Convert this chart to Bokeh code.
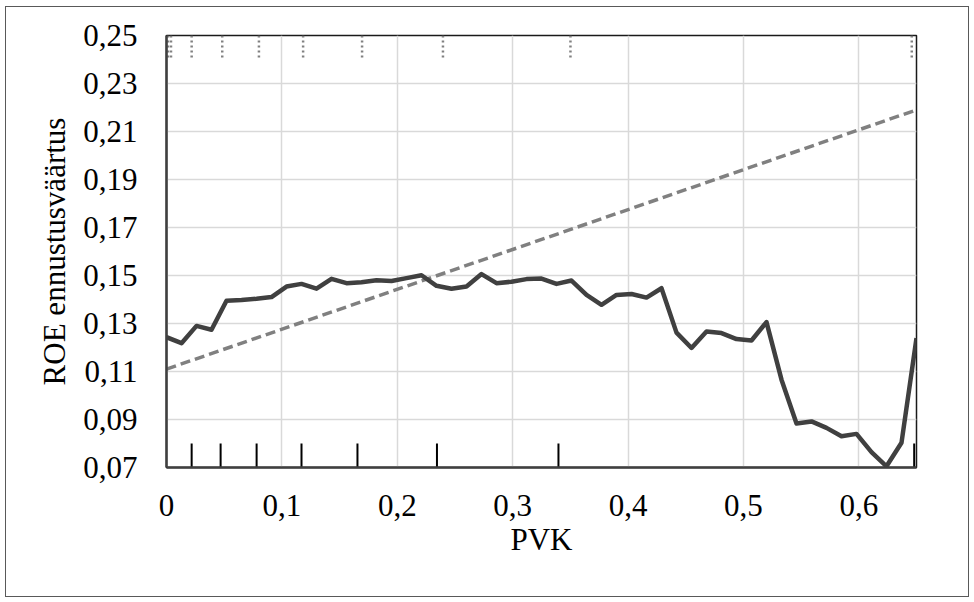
from bokeh.plotting import figure
from bokeh.models import FixedTicker, Range1d
from bokeh.embed import file_html
from bokeh.resources import INLINE

# ---- data ----
pvk = [0.000, 0.013, 0.026, 0.039, 0.052, 0.065, 0.078, 0.091, 0.104, 0.117,
       0.130, 0.143, 0.156, 0.169, 0.182, 0.195, 0.208, 0.221, 0.234, 0.247,
       0.260, 0.273, 0.286, 0.299, 0.312, 0.325, 0.338, 0.351, 0.364, 0.377,
       0.390, 0.403, 0.416, 0.429, 0.442, 0.455, 0.468, 0.481, 0.494, 0.507,
       0.520, 0.533, 0.546, 0.559, 0.572, 0.585, 0.598, 0.611, 0.624, 0.637,
       0.650]
roe = [0.1243, 0.1218, 0.1290, 0.1274, 0.1395, 0.1398, 0.1403, 0.1410, 0.1454, 0.1465,
       0.1445, 0.1486, 0.1468, 0.1472, 0.1480, 0.1477, 0.1489, 0.1501, 0.1457, 0.1445,
       0.1454, 0.1506, 0.1468, 0.1474, 0.1485, 0.1487, 0.1465, 0.1479, 0.1419, 0.1378,
       0.1419, 0.1423, 0.1408, 0.1447, 0.1262, 0.1198, 0.1267, 0.1260, 0.1235, 0.1229,
       0.1306, 0.1066, 0.0883, 0.0892, 0.0865, 0.0830, 0.0840, 0.0764, 0.0705, 0.0803,
       0.1239]
trend_x = [0.0, 0.65]
trend_y = [0.111, 0.219]
rug_bottom_x = [0.0218, 0.0469, 0.0781, 0.1170, 0.1655, 0.2344, 0.3397, 0.648]
rug_top_x = [0.0013, 0.0039, 0.0218, 0.0483, 0.0801, 0.1184, 0.1695, 0.2396, 0.3501, 0.6459]
x_ticks = [0.0, 0.1, 0.2, 0.3, 0.4, 0.5, 0.6]
x_tick_labels = ["0", "0,1", "0,2", "0,3", "0,4", "0,5", "0,6"]
y_ticks = [0.07, 0.09, 0.11, 0.13, 0.15, 0.17, 0.19, 0.21, 0.23, 0.25]
y_tick_labels = ["0,07", "0,09", "0,11", "0,13", "0,15", "0,17", "0,19", "0,21", "0,23", "0,25"]
x_label = "PVK"
y_label = "ROE ennustusväärtus"

X_MIN, X_MAX = 0.0, 0.65
Y_MIN, Y_MAX = 0.07, 0.25

FONT = "Liberation Serif"

p = figure(width=964, height=591, output_backend="svg", toolbar_location=None,
           x_range=Range1d(X_MIN, X_MAX), y_range=Range1d(Y_MIN, Y_MAX),
           min_border_left=160, min_border_right=54, min_border_top=28, min_border_bottom=131)
p.styles = {"border": "1.5px solid #595959", "margin-left": "5px", "margin-top": "6px"}
p.background_fill_color = "white"
p.border_fill_color = "white"
p.outline_line_color = "#1a1a1a"
p.outline_line_width = 1.5

# grid
p.xgrid.ticker = FixedTicker(ticks=x_ticks)
p.ygrid.ticker = FixedTicker(ticks=y_ticks)
p.grid.grid_line_color = "#d9d9d9"
p.grid.grid_line_width = 1.5

# axes
for ax in (p.xaxis[0], p.yaxis[0]):
    ax.axis_line_color = "#404040"
    ax.axis_line_width = 2.5
    ax.major_tick_line_color = None
    ax.minor_tick_line_color = None
    ax.major_tick_out = 0
    ax.major_tick_in = 0
    ax.minor_tick_out = 0
    ax.minor_tick_in = 0
    ax.major_label_text_font = FONT
    ax.major_label_text_font_size = "31px"
    ax.major_label_text_color = "black"
    ax.axis_label_text_font = FONT
    ax.axis_label_text_font_size = "31px"
    ax.axis_label_text_font_style = "normal"
    ax.axis_label_text_color = "black"

p.xaxis.ticker = FixedTicker(ticks=x_ticks)
p.yaxis.ticker = FixedTicker(ticks=y_ticks)
p.xaxis.major_label_overrides = {t: l for t, l in zip(x_ticks, x_tick_labels)}
p.yaxis.major_label_overrides = {t: l for t, l in zip(y_ticks, y_tick_labels)}
p.xaxis.axis_label = x_label
p.yaxis.axis_label = y_label
p.yaxis.major_label_standoff = 29
p.xaxis.major_label_standoff = 27
p.xaxis.axis_label_standoff = 3
p.yaxis.axis_label_standoff = 8

# rug marks
rug_len_bottom = (Y_MAX - Y_MIN) * 24 / 433
rug_len_top = (Y_MAX - Y_MIN) * 23 / 433
p.segment(x0=rug_bottom_x, x1=rug_bottom_x, y0=[Y_MIN] * len(rug_bottom_x),
          y1=[Y_MIN + rug_len_bottom] * len(rug_bottom_x),
          line_color="black", line_width=2)
p.segment(x0=rug_top_x, x1=rug_top_x, y0=[Y_MAX] * len(rug_top_x),
          y1=[Y_MAX - rug_len_top] * len(rug_top_x),
          line_color="#808080", line_width=2.5, line_dash="2 3")

# trend line
p.line(trend_x, trend_y, line_color="#808080", line_width=3.5, line_dash="10 5")
# main line
p.line(pvk, roe, line_color="#404040", line_width=4.5, line_join="round")

open("out.html", "w").write(file_html(p, INLINE))
